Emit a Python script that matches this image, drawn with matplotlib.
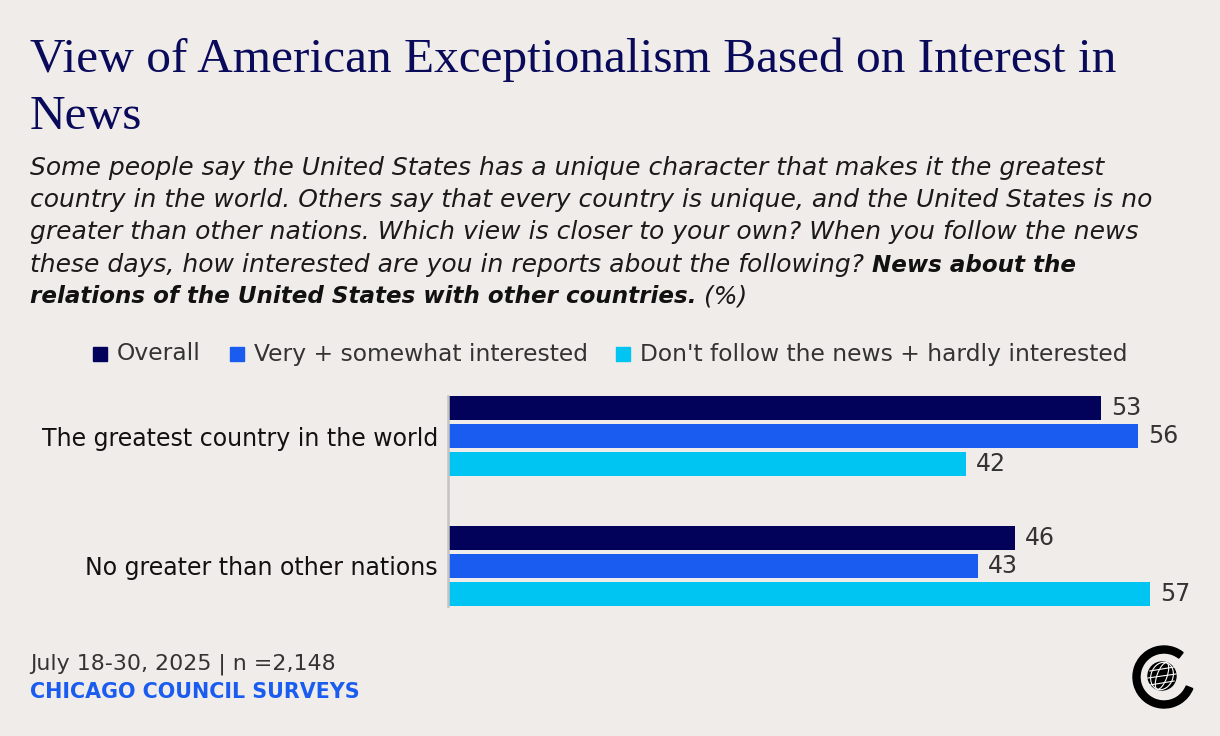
import matplotlib
matplotlib.use('Agg')
import matplotlib.pyplot as plt
from matplotlib.patches import Rectangle, Wedge, Circle, Ellipse
import numpy as np

# data
categories = ['The greatest country in the world', 'No greater than other nations']
series_names = ['Overall', 'Very + somewhat interested',
                "Don't follow the news + hardly interested"]
overall = [53, 46]
interested = [56, 43]
not_interested = [42, 57]
series_values = [overall, interested, not_interested]
colors = ['#02025a', '#1a5cf0', '#00c4f2']

BG = '#f0ecea'
W, H = 1220, 736
SANS = ['DejaVu Sans']


def fx(px):
    return px / W


def fy(py):
    return 1 - py / H


fig = plt.figure(figsize=(W / 100, H / 100), dpi=100, facecolor=BG)

# title
fig.text(fx(30), fy(72), 'View of American Exceptionalism Based on Interest in',
         family='Liberation Serif', fontsize=35.6, color='#0a0a5a', va='baseline')
fig.text(fx(30), fy(129), 'News', family='Liberation Serif', fontsize=35.6,
         color='#0a0a5a', va='baseline')

# subtitle
sub_lines = [
    'Some people say the United States has a unique character that makes it the greatest',
    'country in the world. Others say that every country is unique, and the United States is no',
    'greater than other nations. Which view is closer to your own? When you follow the news',
    'these days, how interested are you in reports about the following? ',
]
sub_y = [168, 200, 232, 265, 297]
sfs = 18
bfs = 16.6
for line, y in zip(sub_lines, sub_y):
    fig.text(fx(30), fy(y), line, family=SANS, fontsize=sfs, style='italic',
             color='#1a1a1a', va='center')

renderer = fig.canvas.get_renderer()
t4 = fig.texts[-1]
x_end = t4.get_window_extent(renderer).x1
fig.text(x_end / W, fy(sub_y[3]), 'News about the', family=SANS, fontsize=bfs,
         style='italic', weight='bold', color='#111111', va='center')
t5 = fig.text(fx(30), fy(sub_y[4]), 'relations of the United States with other countries.',
              family=SANS, fontsize=bfs, style='italic', weight='bold',
              color='#111111', va='center')
x_end = t5.get_window_extent(renderer).x1
fig.text(x_end / W, fy(sub_y[4]), ' (%)', family=SANS, fontsize=sfs,
         style='italic', color='#1a1a1a', va='center')

# legend
leg_x = [93, 230, 616]
for name, c, x in zip(series_names, colors, leg_x):
    fig.patches.append(Rectangle((fx(x), fy(361)), 14 / W, 14 / H,
                                 transform=fig.transFigure, color=c))
    fig.text(fx(x + 24), fy(354), name, family=SANS, fontsize=16.8,
             color='#333333', va='center')

# bars
ax = fig.add_axes([fx(449), fy(606), (1190 - 449) / W, 210 / H])
ax.set_facecolor(BG)
for s in ['top', 'right', 'bottom']:
    ax.spines[s].set_visible(False)
ax.spines['left'].set_position(('outward', 1))
ax.spines['left'].set_color('#c4c4c4')
ax.spines['left'].set_linewidth(1.8)

y = np.arange(len(categories))
step = 28 / 130
bh = 24 / 130
for i, (vals, c) in enumerate(zip(series_values, colors)):
    pos = y + (i - 1) * step
    ax.barh(pos, vals, height=bh, color=c)
    for p, v in zip(pos, vals):
        ax.text(v + 0.8, p, str(v), va='center', ha='left', family=SANS,
                fontsize=17, color='#333333')

ax.set_xlim(0, (1190 - 449) / 12.3)
ax.set_ylim(1 + 0.3077, -0.3077)
ax.set_yticks(y)
ax.set_yticklabels(categories, family=SANS, fontsize=17, color='#111111')
ax.tick_params(axis='y', length=0, pad=7)
ax.set_xticks([])

# footer
fig.text(fx(30), fy(664), 'July 18-30, 2025 | n =2,148', family=SANS, fontsize=15.9,
         color='#333333', va='center')
fig.text(fx(30), fy(692), 'CHICAGO COUNCIL SURVEYS', family=SANS, fontsize=14.9,
         weight='bold', color='#1a5cf0', va='center')

# logo
lax = fig.add_axes([fx(1125), fy(712), 72 / W, 72 / H])
lax.set_xlim(-36, 36)
lax.set_ylim(-36, 36)
lax.set_aspect('equal')
lax.axis('off')
lax.add_patch(Wedge((3, -1), 31, 52, 338, width=7, color='black'))
lax.add_patch(Circle((1, 0), 14, color='black'))
for r in [5, 11]:
    lax.add_patch(Ellipse((1, 0), r * 2, 28, angle=-20, fill=False, ec='white', lw=0.8))
for dy in [-7, 0, 7]:
    hw = np.sqrt(max(14 ** 2 - dy ** 2, 0))
    lax.plot([1 - hw, 1 + hw], [dy - 2, dy + 2], color='white', lw=0.8)

fig.savefig('out.png', dpi=100, facecolor=BG)
